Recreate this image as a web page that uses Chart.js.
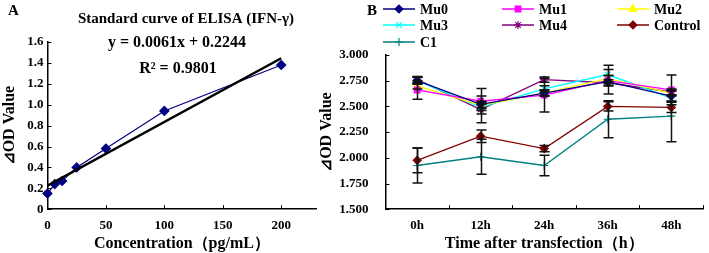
<!DOCTYPE html>
<html>
<head>
<meta charset="utf-8">
<script src="https://cdn.jsdelivr.net/npm/chart.js@4"></script>
<style>
  html, body { margin: 0; padding: 0; background: #fff; }
  #wrap { position: relative; width: 709px; height: 253px; overflow: hidden; }
  canvas { position: absolute; top: 0; }
  .panel { position: absolute; top: 2px; font: bold 15px "Liberation Serif", serif; color: #000; }
</style>
</head>
<body>
<div id="wrap">
  <canvas id="chartA" width="322" height="253" style="left:0"></canvas>
  <canvas id="chartB" width="392" height="253" style="left:317px"></canvas>
  <div class="panel" style="left:8px">A</div>
  <div class="panel" style="left:367px">B</div>
</div>
<script>
"use strict";

// Panel A: standard curve
const concX = [0, 6.25, 12.5, 25, 50, 100, 200];
const odY = [0.15, 0.24, 0.27, 0.40, 0.58, 0.94, 1.38];
const trendX = [0, 200];
const trendY = [0.2244, 1.4444];
const xTicksA = [0, 50, 100, 150, 200];

// Panel B: OD over time
const timeLabels = ['0h', '12h', '24h', '36h', '48h'];
const mu0 = [2.75, 2.52, 2.63, 2.74, 2.60];
const mu1 = [2.66, 2.55, 2.61, 2.75, 2.66];
const mu2 = [2.70, 2.51, 2.63, 2.77, 2.63];
const mu3 = [2.75, 2.49, 2.67, 2.81, 2.58];
const mu4 = [2.76, 2.47, 2.76, 2.73, 2.64];
const control = [1.975, 2.21, 2.09, 2.50, 2.49];
const c1 = [1.925, 2.01, 1.925, 2.375, 2.405];
const mu0Err = [0.035, 0.03, 0.03, 0.12, 0.05];
const mu1Err = [0.09, 0.125, 0.165, 0.05, 0.145];
const mu2Err = [0.03, 0.03, 0.03, 0.03, 0.03];
const mu3Err = [0.03, 0.03, 0.03, 0.09, 0.03];
const mu4Err = [0.03, 0.13, 0.025, 0.03, 0.03];
const controlErr = [0.12, 0.06, 0.03, 0.045, 0.05];
const c1Err = [0.17, 0.17, 0.10, 0.18, 0.25];

const serif = '"Liberation Serif", "Times New Roman", serif';
Chart.defaults.font.family = serif;
Chart.defaults.font.weight = 'bold';
Chart.defaults.font.size = 13;
Chart.defaults.color = '#000';

// short tick marks pointing into the plot, like the original
const innerTicks = {
    id: 'innerTicks',
    afterDraw(chart) {
        const ctx = chart.ctx;
        const area = chart.chartArea;
        const xs = chart.scales.x;
        const ys = chart.scales.y;
        ctx.save();
        ctx.strokeStyle = '#000';
        ctx.lineWidth = 1;
        ctx.beginPath();
        ys.ticks.forEach((t, i) => {
            const py = Math.round(ys.getPixelForTick(i)) + 0.5;
            ctx.moveTo(area.left, py);
            ctx.lineTo(area.left + 4, py);
        });
        if (xs.type === 'category') {
            for (let i = 0; i < xs.ticks.length; i++) {
                const px = Math.round(xs.getPixelForValue(i + 0.5)) + 0.5;
                ctx.moveTo(px, area.bottom);
                ctx.lineTo(px, area.bottom - 4);
            }
        } else {
            xs.ticks.forEach((t, i) => {
                if (i === 0) return;
                const px = Math.round(xs.getPixelForTick(i)) + 0.5;
                ctx.moveTo(px, area.bottom);
                ctx.lineTo(px, area.bottom - 4);
            });
        }
        ctx.stroke();
        ctx.restore();
    }
};

// title and regression text of panel A
const equationText = {
    id: 'equationText',
    afterDraw(chart) {
        const ctx = chart.ctx;
        ctx.save();
        ctx.fillStyle = '#000';
        ctx.textAlign = 'center';
        ctx.textBaseline = 'middle';
        ctx.font = 'bold 15px ' + serif;
        ctx.fillText('Standard curve of ELISA (IFN-\u03B3)', 186, 19);
        ctx.font = 'bold 16px ' + serif;
        ctx.fillText('y = 0.0061x + 0.2244', 177, 43);
        ctx.fillText('R\u00B2 = 0.9801', 178, 69);
        ctx.restore();
    }
};

new Chart(document.getElementById('chartA'), {
    type: 'scatter',
    data: {
        datasets: [{
            data: concX.map((x, i) => ({x: x, y: odY[i]})),
            showLine: true,
            borderColor: '#000080',
            backgroundColor: '#000080',
            borderWidth: 1.2,
            pointStyle: 'rectRot',
            pointRadius: 4.5,
            clip: false,
            order: 2
        }, {
            data: trendX.map((x, i) => ({x: x, y: trendY[i]})),
            showLine: true,
            borderColor: '#000',
            borderWidth: 2.5,
            pointRadius: 0,
            order: 1
        }]
    },
    options: {
        responsive: false,
        animation: false,
        devicePixelRatio: 1,
        layout: {padding: {left: 0, right: 3, top: 42, bottom: 0}},
        plugins: {
            legend: {display: false},
            tooltip: {enabled: false}
        },
        scales: {
            x: {
                type: 'linear',
                min: 0,
                max: 230,
                afterBuildTicks: axis => {
                    axis.ticks = xTicksA.map(v => ({value: v}));
                },
                ticks: {padding: 9},
                grid: {drawOnChartArea: false, drawTicks: false},
                border: {color: '#000', width: 1.5},
                title: {
                    display: true,
                    text: 'Concentration\uFF08pg/mL\uFF09',
                    font: {size: 16, weight: 'bold'},
                    padding: {top: -9, bottom: 0}
                }
            },
            y: {
                min: 0,
                max: 1.6,
                ticks: {stepSize: 0.2, padding: 4},
                grid: {drawOnChartArea: false, drawTicks: false},
                border: {color: '#000', width: 1.5},
                title: {
                    display: true,
                    text: '\u22BFOD Value',
                    font: {size: 16, weight: 'bold'},
                    padding: {top: 0, bottom: 4}
                }
            }
        }
    },
    plugins: [innerTicks, equationText]
});

const seriesB = [
    {label: 'Mu0', data: mu0, err: mu0Err, color: '#000080', style: 'rectRot', r: 4},
    {label: 'Mu1', data: mu1, err: mu1Err, color: '#FF00FF', style: 'rect', r: 4},
    {label: 'Mu2', data: mu2, err: mu2Err, color: '#FFFF00', style: 'triangle', r: 4.5},
    {label: 'Mu3', data: mu3, err: mu3Err, color: '#00FFFF', style: 'crossRot', r: 4},
    {label: 'Mu4', data: mu4, err: mu4Err, color: '#800080', style: 'star', r: 4},
    {label: 'Control', data: control, err: controlErr, color: '#800000', style: 'rectRot', r: 4},
    {label: 'C1', data: c1, err: c1Err, color: '#008080', style: 'cross', r: 4}
];

// error bars, drawn from each series' err array
const errorBars = {
    id: 'errorBars',
    afterDatasetsDraw(chart) {
        const ctx = chart.ctx;
        const ys = chart.scales.y;
        ctx.save();
        ctx.strokeStyle = '#111';
        ctx.lineWidth = 1.5;
        chart.data.datasets.forEach((ds, di) => {
            const meta = chart.getDatasetMeta(di);
            meta.data.forEach((pt, j) => {
                const e = ds.err[j];
                const top = ys.getPixelForValue(ds.data[j] + e);
                const bot = ys.getPixelForValue(ds.data[j] - e);
                const x = Math.round(pt.x) + 0.5;
                ctx.beginPath();
                ctx.moveTo(x, top);
                ctx.lineTo(x, bot);
                ctx.moveTo(x - 5, top);
                ctx.lineTo(x + 5, top);
                ctx.moveTo(x - 5, bot);
                ctx.lineTo(x + 5, bot);
                ctx.stroke();
            });
        });
        ctx.restore();
    }
};

// three-column legend across the top of panel B
const legendCols = [66, 185, 300];
const legendRows = [9, 25, 42];
const topLegend = {
    id: 'topLegend',
    afterDraw(chart) {
        const ctx = chart.ctx;
        ctx.save();
        ctx.font = 'bold 14px ' + serif;
        ctx.textBaseline = 'middle';
        ctx.textAlign = 'left';
        chart.data.datasets.forEach((ds, i) => {
            const x = legendCols[i % 3];
            const y = legendRows[Math.floor(i / 3)];
            ctx.strokeStyle = ds.borderColor;
            ctx.lineWidth = 1.5;
            ctx.beginPath();
            ctx.moveTo(x, y);
            ctx.lineTo(x + 32, y);
            ctx.stroke();
            if (Chart.helpers && Chart.helpers.drawPoint) {
                ctx.fillStyle = ds.backgroundColor;
                ctx.strokeStyle = ds.borderColor;
                ctx.lineWidth = 1.2;
                Chart.helpers.drawPoint(ctx, {
                    pointStyle: ds.pointStyle,
                    radius: ds.pointRadius,
                    rotation: 0,
                    borderWidth: 1.2
                }, x + 16, y);
            }
            ctx.fillStyle = '#000';
            ctx.fillText(ds.label, x + 37, y + 1);
        });
        ctx.restore();
    }
};

new Chart(document.getElementById('chartB'), {
    type: 'line',
    data: {
        labels: timeLabels,
        datasets: seriesB.map(s => ({
            label: s.label,
            data: s.data,
            err: s.err,
            borderColor: s.color,
            backgroundColor: s.color,
            pointBorderColor: s.color,
            pointBackgroundColor: s.color,
            borderWidth: 1.3,
            pointStyle: s.style,
            pointRadius: s.r,
            pointBorderWidth: 1.2,
            tension: 0
        }))
    },
    options: {
        responsive: false,
        animation: false,
        devicePixelRatio: 1,
        layout: {padding: {left: 0, right: 6, top: 55, bottom: 0}},
        plugins: {
            legend: {display: false},
            tooltip: {enabled: false}
        },
        scales: {
            x: {
                offset: true,
                ticks: {padding: 9},
                grid: {display: true, drawOnChartArea: false, drawTicks: false},
                border: {color: '#000', width: 1.5},
                title: {
                    display: true,
                    text: 'Time after transfection\uFF08h\uFF09',
                    font: {size: 16, weight: 'bold'},
                    padding: {top: -9, bottom: 0}
                }
            },
            y: {
                min: 1.5,
                max: 3.0,
                ticks: {
                    stepSize: 0.25,
                    padding: 17,
                    callback: v => Number(v).toFixed(3)
                },
                grid: {drawOnChartArea: false, drawTicks: false},
                border: {color: '#000', width: 1.5},
                title: {
                    display: true,
                    text: '\u22BFOD Value',
                    font: {size: 16, weight: 'bold'},
                    padding: {top: 0, bottom: -14}
                }
            }
        }
    },
    plugins: [innerTicks, errorBars, topLegend]
});
</script>
</body>
</html>
